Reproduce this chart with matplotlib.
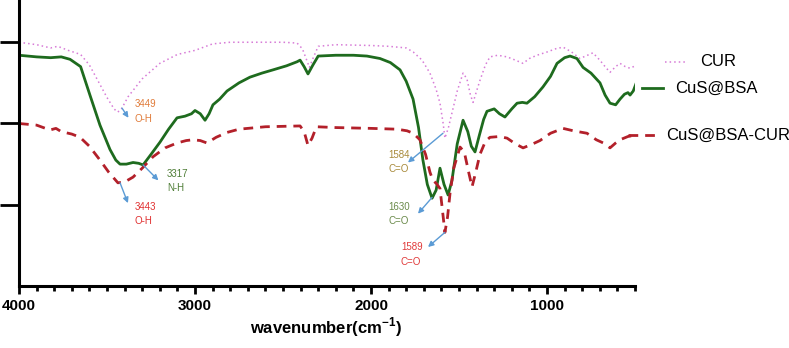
import matplotlib.pyplot as plt

# 数据：FTIR 光谱 (波数, 透过率-相对单位)
cur_wn = [4000, 3900, 3820, 3780, 3720, 3650, 3600, 3550, 3500, 3460, 3440, 3420, 3380, 3300,
          3200, 3100, 3000, 2950, 2900, 2800, 2500, 2420, 2390, 2360, 2350, 2330, 2300, 2200,
          2000, 1900, 1800, 1760, 1710, 1665, 1630, 1608, 1590, 1580, 1560, 1540, 1510, 1477,
          1455, 1435, 1420, 1400, 1381, 1350, 1324, 1280, 1227, 1180, 1136, 1100, 1057, 1000,
          950, 909, 860, 813, 770, 739, 700, 670, 642, 610, 585, 555, 528, 489]
cur_val = [3.00, 2.97, 2.93, 2.95, 2.90, 2.85, 2.72, 2.52, 2.32, 2.18, 2.14, 2.17, 2.33, 2.55,
           2.74, 2.85, 2.90, 2.94, 2.98, 3.00, 3.00, 2.99, 2.92, 2.75, 2.69, 2.80, 2.95, 2.97,
           2.96, 2.95, 2.93, 2.88, 2.78, 2.62, 2.42, 2.25, 2.00, 1.82, 1.95, 2.13, 2.40, 2.62,
           2.55, 2.35, 2.26, 2.40, 2.53, 2.72, 2.82, 2.84, 2.82, 2.78, 2.74, 2.80, 2.84, 2.88,
           2.92, 2.94, 2.88, 2.80, 2.84, 2.87, 2.78, 2.70, 2.63, 2.70, 2.74, 2.70, 2.68, 2.72]

bsa_wn = [4000, 3900, 3820, 3760, 3710, 3650, 3597, 3540, 3483, 3450, 3426, 3390, 3352, 3320,
          3295, 3250, 3199, 3150, 3102, 3057, 3020, 3000, 2970, 2943, 2920, 2898, 2860, 2818,
          2750, 2688, 2620, 2557, 2480, 2420, 2403, 2380, 2358, 2330, 2300, 2200, 2100, 2023,
          1949, 1890, 1835, 1800, 1761, 1730, 1705, 1680, 1653, 1630, 1608, 1585, 1562, 1540,
          1510, 1477, 1450, 1430, 1409, 1385, 1360, 1341, 1300, 1270, 1239, 1200, 1170, 1140,
          1114, 1070, 1023, 980, 943, 900, 869, 830, 795, 750, 699, 670, 642, 610, 585, 560,
          540, 528, 510, 489]
bsa_val = [2.84, 2.82, 2.81, 2.82, 2.79, 2.70, 2.35, 1.98, 1.68, 1.55, 1.50, 1.50, 1.52, 1.51,
           1.49, 1.62, 1.77, 1.93, 2.07, 2.09, 2.12, 2.16, 2.12, 2.04, 2.12, 2.23, 2.30, 2.40,
           2.50, 2.57, 2.62, 2.66, 2.71, 2.76, 2.78, 2.70, 2.61, 2.72, 2.83, 2.84, 2.84, 2.83,
           2.80, 2.75, 2.66, 2.52, 2.30, 1.95, 1.55, 1.25, 1.08, 1.18, 1.45, 1.25, 1.12, 1.30,
           1.75, 2.04, 1.90, 1.72, 1.65, 1.85, 2.05, 2.15, 2.18, 2.12, 2.08, 2.18, 2.25, 2.26,
           2.25, 2.33, 2.45, 2.58, 2.74, 2.81, 2.83, 2.80, 2.69, 2.62, 2.50, 2.35, 2.25, 2.23,
           2.30, 2.36, 2.38, 2.35, 2.40, 2.52]

mix_wn = [4000, 3900, 3824, 3790, 3760, 3700, 3653, 3600, 3540, 3490, 3438, 3400, 3352, 3300,
          3239, 3170, 3102, 3050, 3011, 2970, 2932, 2880, 2818, 2750, 2600, 2403, 2380, 2358,
          2335, 2310, 2200, 2000, 1852, 1795, 1760, 1722, 1690, 1665, 1648, 1628, 1608, 1595,
          1580, 1565, 1551, 1530, 1494, 1470, 1445, 1426, 1405, 1381, 1350, 1324, 1270, 1227,
          1180, 1136, 1090, 1040, 980, 909, 850, 773, 720, 680, 642, 610, 585, 540, 489]
mix_val = [2.00, 1.98, 1.92, 1.94, 1.90, 1.87, 1.83, 1.72, 1.55, 1.40, 1.27, 1.28, 1.34, 1.45,
           1.59, 1.70, 1.76, 1.79, 1.80, 1.79, 1.76, 1.83, 1.89, 1.93, 1.96, 1.97, 1.90, 1.73,
           1.82, 1.96, 1.95, 1.94, 1.93, 1.91, 1.88, 1.80, 1.62, 1.40, 1.30, 1.26, 1.20, 0.95,
           0.66, 0.85, 1.14, 1.45, 1.71, 1.65, 1.40, 1.22, 1.40, 1.62, 1.78, 1.83, 1.84, 1.82,
           1.75, 1.70, 1.74, 1.79, 1.88, 1.94, 1.91, 1.88, 1.80, 1.76, 1.70, 1.76, 1.80, 1.84, 1.86]

labels = ['CUR', 'CuS@BSA', 'CuS@BSA-CUR']

# 峰值标注：(文本, 颜色, 箭头起点, 箭头终点, 文本位置)
peak_notes = [
    ('3449\nO-H', '#e07b39', (3415, 2.19), (3378, 2.07), (3341, 2.30)),
    ('3317\nN-H', '#4e7d36', (3295, 1.49), (3208, 1.30), (3159, 1.44)),
    ('3443\nO-H', '#e03030', (3426, 1.27), (3381, 1.02), (3341, 1.04)),
    ('1584\nC=O', '#a88a3a', (1591, 1.88), (1790, 1.52), (1903, 1.68)),
    ('1630\nC=O', '#6a8a4a', (1653, 1.09), (1733, 0.89), (1903, 1.04)),
    ('1589\nC=O', '#e03a3a', (1580, 0.66), (1676, 0.48), (1830, 0.54)),
]

plt.rcParams['font.family'] = ['Liberation Sans', 'DejaVu Sans']
plt.rcParams['mathtext.fontset'] = 'custom'
plt.rcParams['mathtext.rm'] = 'Liberation Sans:bold'
plt.rcParams['mathtext.bf'] = 'Liberation Sans:bold'

fig = plt.figure(figsize=(7.89, 3.48), dpi=100)
ax = fig.add_axes([19 / 789, 1 - 286 / 348, 616 / 789, 286 / 348])

ax.plot(cur_wn, cur_val, color='#d77bd7', lw=1.1, ls=(0, (1, 2)))
ax.plot(bsa_wn, bsa_val, color='#1e6b1e', lw=2.0)
ax.plot(mix_wn, mix_val, color='#b3202a', lw=2.0, ls=(0, (3.5, 2.5)))

for txt, col, p0, p1, tpos in peak_notes:
    ax.annotate('', xy=p1, xytext=p0,
                arrowprops=dict(arrowstyle='-|>', color='#5b9bd5', lw=1.0,
                                mutation_scale=8, shrinkA=0, shrinkB=0))
    ax.text(tpos[0], tpos[1], txt, color=col, fontsize=7, linespacing=1.55,
            ha='left', va='top')

ax.set_xlim(4000, 500)
ax.set_ylim(0, 3.52)
ax.set_xticks([4000, 3000, 2000, 1000])
ax.set_xticks(range(500, 4001, 100), minor=True)
ax.set_yticks([1, 2, 3])
ax.set_yticklabels([])
ax.tick_params(axis='x', which='major', length=6, width=2, labelsize=11, pad=3)
ax.tick_params(axis='x', which='minor', length=3.5, width=2)
ax.tick_params(axis='y', which='major', length=14, width=2)
for lab in ax.get_xticklabels():
    lab.set_fontweight('bold')
for s in ['top', 'right']:
    ax.spines[s].set_visible(False)
for s in ['left', 'bottom']:
    ax.spines[s].set_linewidth(2.2)

# x 轴标题
fig.text(326 / 789, 1 - 333 / 348, 'wavenumber(cm$^{-1}$)', fontsize=12,
         fontweight='bold', ha='center', va='baseline')

# 右侧图例（手动放置）
leg_style = [('#d77bd7', 1.1, (0, (1, 2)), 665, 687, 700, 62),
             ('#1e6b1e', 2.0, '-', 642, 663, 675, 88),
             ('#b3202a', 2.0, (0, (3.5, 2.5)), 628, 655, 666, 135)]
for lab, (col, lw, ls, x0, x1, xt, yy) in zip(labels, leg_style):
    fig.add_artist(plt.Line2D([x0 / 789, x1 / 789], [1 - yy / 348] * 2, color=col, lw=lw, ls=ls))
    fig.text(xt / 789, 1 - yy / 348, lab, fontsize=12, ha='left', va='center')

fig.savefig('out.png', dpi=100)
